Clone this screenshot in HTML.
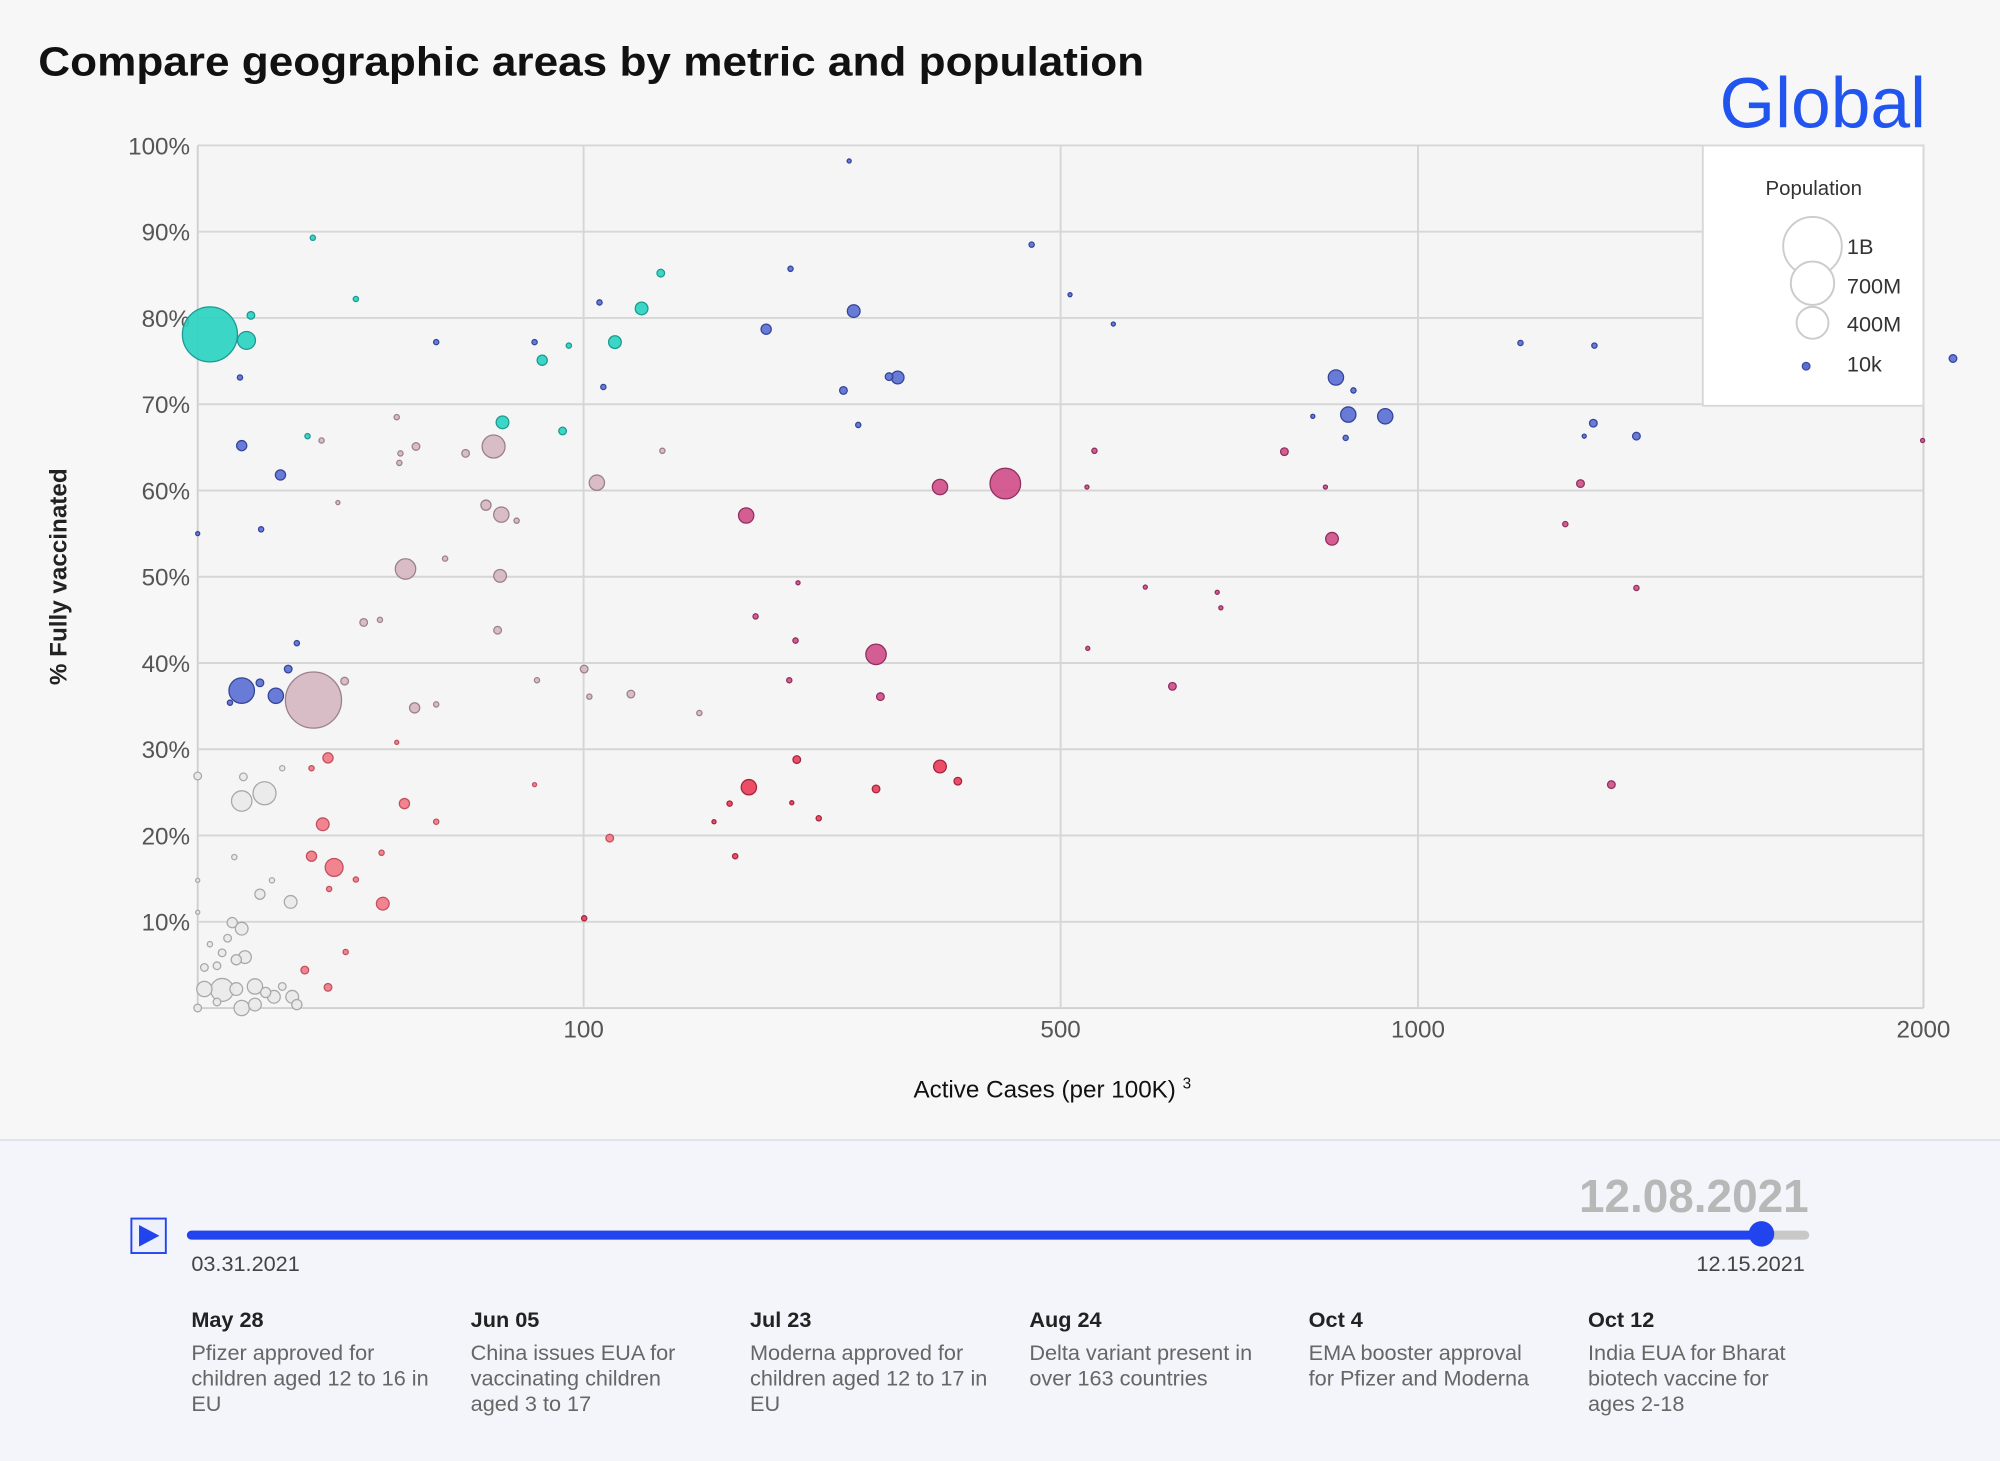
<!DOCTYPE html>
<html><head><meta charset="utf-8">
<style>
html,body{margin:0;padding:0;background:#f7f7f7;}
svg{display:block;font-family:"Liberation Sans",sans-serif;}
.n{font-family:"Liberation Sans",sans-serif;}
</style></head>
<body>
<svg id="chart" width="2000" height="1461" viewBox="0 0 1568 1145" preserveAspectRatio="none" xmlns="http://www.w3.org/2000/svg">
<rect x="0" y="0" width="1568" height="1145" fill="#f7f7f7"/>
<text x="30" y="59" font-size="32" font-weight="bold" fill="#111" textLength="867" lengthAdjust="spacingAndGlyphs">Compare geographic areas by metric and population</text>
<text x="1510" y="100" font-size="56" fill="#2255ee" text-anchor="end">Global</text>
<rect x="155" y="114" width="1353" height="676" fill="#f5f5f5"/>
<g id="grid"></g>
<g id="yticks"></g>
<g id="xticks"></g>
<text transform="translate(52,452) rotate(-90)" text-anchor="middle" font-size="19" font-weight="bold" fill="#222">% Fully vaccinated</text>
<text x="825" y="860" text-anchor="middle" font-size="19" fill="#111">Active Cases (per 100K) <tspan font-size="12" dy="-7">3</tspan></text>
<g id="legend">
<rect x="1335" y="114" width="173" height="204" fill="#ffffff" stroke="#d8d8d8" stroke-width="1.5"/>
<text x="1422" y="153" text-anchor="middle" font-size="16" fill="#333">Population</text>
<circle cx="1421" cy="193" r="23" fill="#fff" stroke="#ccc" stroke-width="1.5"/>
<circle cx="1421" cy="222" r="17" fill="#fff" stroke="#ccc" stroke-width="1.5"/>
<circle cx="1421" cy="253" r="12.5" fill="#fff" stroke="#ccc" stroke-width="1.5"/>
<circle cx="1416" cy="287" r="3" fill="#5b6fd0" stroke="#3a4aa0"/>
<text x="1448" y="199" font-size="17" fill="#333">1B</text>
<text x="1448" y="230" font-size="17" fill="#333">700M</text>
<text x="1448" y="260" font-size="17" fill="#333">400M</text>
<text x="1448" y="291" font-size="17" fill="#333">10k</text>
</g>
<g id="bubbles"></g>
<g>
<rect x="0" y="893" width="1568" height="252" fill="#f3f5fa"/>
<line x1="0" y1="893.5" x2="1568" y2="893.5" stroke="#dde2ee" stroke-width="1.5"/>
<text x="1418" y="950" text-anchor="end" font-size="36" fill="#b8b8b8" font-weight="bold">12.08.2021</text>
<g>
<rect x="103" y="955" width="27" height="27" fill="#eef1fb" stroke="#2244ee" stroke-width="1.5"/>
<path d="M109 960 L125 968.5 L109 977 Z" fill="#2244ee"/>
</g>
<line x1="150" y1="968" x2="1415" y2="968" stroke="#c8c8c8" stroke-width="7" stroke-linecap="round"/>
<line x1="150" y1="968" x2="1381" y2="968" stroke="#2244ee" stroke-width="7" stroke-linecap="round"/>
<circle cx="1381" cy="967" r="10" fill="#2244ee"/>
<text x="150" y="996" font-size="17" fill="#444">03.31.2021</text>
<text x="1415" y="996" text-anchor="end" font-size="17" fill="#444">12.15.2021</text>
<g id="events"></g>
</g>
</svg>
<script>
const cases=[0.1,1.6,1.9,8.9,16.8,1.2,1.3,4.6,2.7,0,38.2,76.2,79.7,92.5,62.4,89.4,8.1,10.3,26.6,32.0,27.6,27.3,48.2,58.8,13.2,55.8,61.9,68.3,29.0,41.1,61.4,18.5,22.3,6.6,60.4,5.5,1.3,0.7,2.6,4.1,9.0,14.5,31.6,38.2,0,1.4,1.3,3.0,4.8,8.7,11.4,26.6,10.5,28.7,38.2,76.2,0.9,0,2.6,3.7,5.8,8.7,12.5,11.6,16.8,22.7,23.0,0,0.8,1.3,0.6,0.1,0.03,0.4,1.0,1.5,0.25,0.03,0.4,1.0,2.2,3.1,3.9,6.0,1.3,2.2,6.6,0.25,4.8,0,7.7,11.4,14.7,100.3,100.3,103,126,169,77.3,107,145,110.5,108.4,116.9,132.3,144,217,236,285,289,280,293,321,329,467,511,563,202,370,438,209,242,240,235,309,313,540,531,532,603,698,703,638,204,190,179,194,241,237,259,309,370,388,114,870,897,889,947,835,885,1175,1310,1308,1291,1390,2069,793,854,864,1284,1256,1390,1342,1998];
const vaccinated=[78.1,77.4,80.3,89.3,82.2,73.1,65.2,61.8,55.5,55.0,77.2,77.2,75.1,76.8,67.9,66.9,66.3,65.8,68.5,65.1,64.3,63.2,64.3,65.1,58.6,58.3,57.2,56.5,50.9,52.1,50.1,44.7,45.0,42.3,43.8,39.3,36.8,35.4,37.7,36.2,35.7,37.9,34.8,35.2,26.9,26.8,24.0,24.9,27.8,27.8,29.0,30.8,21.3,23.7,21.6,25.9,17.5,14.8,13.2,14.8,12.3,17.6,16.3,13.8,14.9,18.0,12.1,11.1,9.9,9.2,8.1,7.4,4.7,6.4,5.6,5.9,4.9,2.2,2.1,2.2,2.5,1.8,1.3,1.3,0,0.4,0.4,0.7,2.5,0,4.4,2.4,6.5,10.4,39.3,36.1,36.4,34.2,38.0,60.9,64.6,72.0,81.8,77.2,81.1,85.2,78.7,85.7,98.2,80.8,71.6,67.6,73.2,73.1,88.5,82.7,79.3,57.1,60.4,60.8,45.4,49.3,42.6,38.0,41.0,36.1,64.6,60.4,41.7,48.8,48.2,46.4,37.3,25.6,23.7,21.6,17.6,28.8,23.8,22.0,25.4,28.0,26.3,19.7,73.1,71.6,68.8,68.6,68.6,66.1,77.1,76.8,67.8,66.3,66.3,75.3,64.5,60.4,54.4,60.8,56.1,48.7,25.9,65.8];
const population=[880,93,17,8,8,8,30,30,8,4,8,8,30,8,47,17,8,8,8,17,8,8,17,153,4,30,68,8,121,8,47,17,8,8,17,17,189,8,17,68,915,17,30,8,17,17,121,153,8,8,30,4,47,30,8,4,8,4,30,8,47,30,93,8,8,8,47,4,30,47,17,8,17,17,30,47,17,68,153,47,68,30,47,47,68,47,30,17,17,17,17,17,8,8,17,8,17,8,8,68,8,8,8,47,47,17,30,8,4,47,17,8,17,47,8,4,4,68,68,272,8,4,8,8,121,17,8,4,4,4,4,4,17,68,8,4,8,17,4,8,17,47,17,17,68,8,68,68,4,8,8,8,17,4,17,17,17,4,47,17,8,8,17,4];
const group=["t","t","t","t","t","b","b","b","b","b","b","b","t","t","t","t","t","m","m","m","m","m","m","m","m","m","m","m","m","m","m","m","m","b","m","b","b","b","b","b","m","m","m","m","g","g","g","g","g","p","p","p","p","p","p","p","g","g","g","g","g","p","p","p","p","p","p","g","g","g","g","g","g","g","g","g","g","g","g","g","g","g","g","g","g","g","g","g","g","g","p","p","p","r","m","m","m","m","m","m","m","b","b","t","t","t","b","b","b","b","b","b","b","b","b","b","b","M","M","M","M","M","M","M","M","M","M","M","M","M","M","M","M","r","r","r","r","r","r","r","r","r","r","p","b","b","b","b","b","b","b","b","b","b","b","b","M","M","M","M","M","M","M","M"];
const yTicks=[10,20,30,40,50,60,70,80,90,100];
const xTicks=[100,500,1000,2000];
const events=[["May 28",["Pfizer approved for","children aged 12 to 16 in","EU"]],["Jun 05",["China issues EUA for","vaccinating children","aged 3 to 17"]],["Jul 23",["Moderna approved for","children aged 12 to 17 in","EU"]],["Aug 24",["Delta variant present in","over 163 countries"]],["Oct 4",["EMA booster approval","for Pfizer and Moderna"]],["Oct 12",["India EUA for Bharat","biotech vaccine for","ages 2-18"]]];

const NS="http://www.w3.org/2000/svg";
const X0=155,X1=1508,Y0=790,Y1=114;
const xScale=v=>X0+(X1-X0)*Math.sqrt(Math.max(v,0))/Math.sqrt(2000);
const yScale=p=>Y0-(Y0-Y1)*p/100;
const rScale=m=>Math.max(1.6,23*Math.sqrt(m/1000));
const fills={t:["#2bd3c1","#1a9a90"],b:["#5b70d2","#34449a"],m:["#d6b7c1","#9c8089"],g:["#e9e9e9","#a8a8a8"],p:["#f07a86","#c24f5e"],M:["#d0508a","#8e2f5c"],r:["#ea3f5b","#a3263d"]};
function mk(tag,attrs,parent){const e=document.createElementNS(NS,tag);for(const k in attrs)e.setAttribute(k,attrs[k]);parent.appendChild(e);return e;}
const grid=document.getElementById('grid'),yt=document.getElementById('yticks'),xt=document.getElementById('xticks');
mk('line',{x1:X0,y1:Y1,x2:X0,y2:Y0,stroke:'#d0d0d0','stroke-width':1.5},grid);
mk('line',{x1:X1,y1:Y1,x2:X1,y2:Y0,stroke:'#d0d0d0','stroke-width':1.5},grid);
mk('line',{x1:X0,y1:Y0,x2:X1,y2:Y0,stroke:'#d0d0d0','stroke-width':1.5},grid);
yTicks.forEach(t=>{
  const y=yScale(t);
  const l=mk('line',{x1:X0,y1:y,x2:X1,y2:y,stroke:'#d6d6d6','stroke-width':1.5},grid);
  
  
  const tx=mk('text',{x:149,y:y+7,'text-anchor':'end','font-size':19,fill:'#555'},yt);
  tx.textContent=t+'%';
  
  
});
xTicks.forEach(t=>{
  const x=xScale(t);
  if(t<2000){const l=mk('line',{x1:x,y1:Y1,x2:x,y2:Y0,stroke:'#d6d6d6','stroke-width':1.5},grid);
  
  }
  const tx=mk('text',{x:x,y:813,'text-anchor':'middle','font-size':19,fill:'#555'},xt);
  tx.textContent=t;
  
  
});
const bg=document.getElementById('bubbles');
const order=cases.map((c,i)=>i).sort((a,b)=>population[b]-population[a]);
order.forEach(i=>{
  const f=fills[group[i]];
  const c=mk('circle',{cx:xScale(cases[i]),cy:yScale(vaccinated[i]),r:rScale(population[i]),fill:f[0],stroke:f[1],'stroke-width':1,'fill-opacity':0.92},bg);
  
  
});
const ev=document.getElementById('events');
events.forEach((e,i)=>{
  const x=150+219*i;
  const g=mk('g',{},ev);
  
  
  const h=mk('text',{x:x,y:1040,'font-size':17,'font-weight':'bold',fill:'#222'},g);
  h.textContent=e[0];
  e[1].forEach((line,j)=>{const t=mk('text',{x:x,y:1066+j*20,'font-size':17,fill:'#666'},g);t.textContent=line;});
});
</script>
</body></html>
